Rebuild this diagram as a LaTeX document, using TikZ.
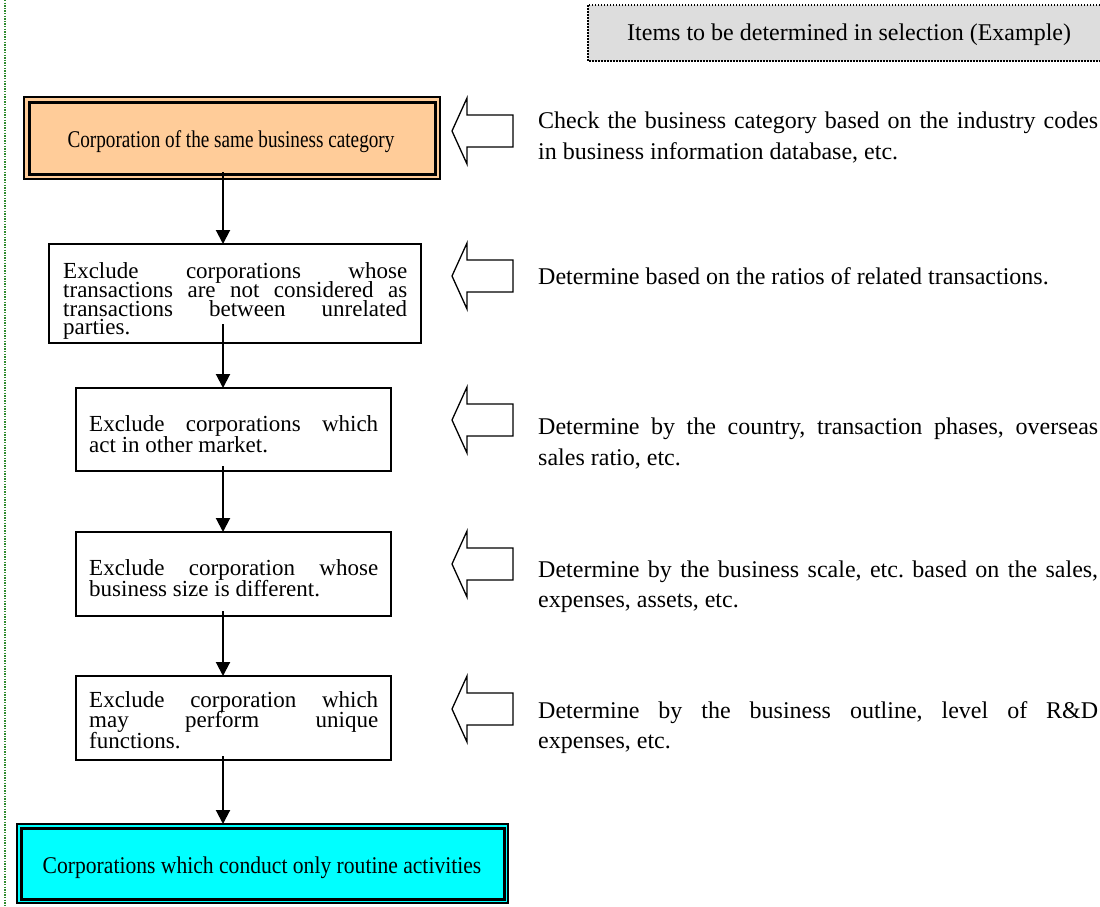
\documentclass[tikz,border=0pt]{standalone}
\usepackage{fontspec}
\setmainfont{Liberation Serif}
\usetikzlibrary{arrows.meta}
\definecolor{peach}{HTML}{FFCC99}
\definecolor{aqua}{HTML}{00FFFF}
\definecolor{hdrgray}{HTML}{DDDDDD}
\definecolor{dotgreen}{HTML}{2E8B2E}
\frenchspacing
\begin{document}
\frenchspacing
\begin{tikzpicture}[x=1pt,y=-1pt,
  flowbox/.style={draw,line width=1.6pt,fill=white,inner sep=0pt,outer sep=0pt},
  outerbox/.style={draw,line width=1.5pt,inner sep=0pt,outer sep=0pt},
  innerbox/.style={draw,line width=3pt,inner sep=0pt,outer sep=0pt},
  flow/.style={line width=2pt,-{Triangle[width=14pt,length=14pt]}},
  blockarrow/.style={draw,line width=1.3pt,fill=white,line join=miter},
  txt/.style={anchor=base west,inner sep=0pt,font=\fontsize{24}{31}\selectfont\frenchspacing},
  btxt/.style={anchor=base west,inner sep=0pt,font=\fontsize{23}{19}\selectfont\frenchspacing},
  larrow/.pic={\draw[blockarrow] (0,0) -- (15,-33) -- (15,-16) -- (61,-16) -- (61,16) -- (15,16) -- (15,33) -- cycle;}
]
\useasboundingbox (0,0) rectangle (1100,906);
\clip (0,0) rectangle (1100,906);

% left green dotted rule
\draw[dotgreen,line width=1.6pt,dash pattern=on 1.3pt off 1.3pt] (5,0) -- (5,906);

% header box
\draw[line width=1.5pt,dash pattern=on 1.5pt off 1.5pt,fill=hdrgray] (588,5) rectangle (1115,61);
\node[txt] (hdr) at (627,40) {Items to be determined in selection (Example)};

% box 1
\node[outerbox,fill=peach,minimum width=416pt,minimum height=82pt] (b1out) at (232,138) {};
\node[innerbox,minimum width=406pt,minimum height=72pt] (b1) at (232,138) {};
\node[txt,anchor=base] (b1t) at (231,147) {\scalebox{0.8}[1]{Corporation of the same business category}};

% box 2
\node[flowbox,minimum width=372pt,minimum height=99pt] (b2) at (235,293.5) {};
\node[btxt] (b2a) at (63,278) {\makebox[344pt][s]{Exclude corporations whose}};
\node[btxt] (b2b) at (63,297) {\makebox[344pt][s]{transactions are not considered as}};
\node[btxt] (b2c) at (63,316) {\makebox[344pt][s]{transactions between unrelated}};
\node[btxt] (b2d) at (63,334) {parties.};

% box 3
\node[flowbox,minimum width=315pt,minimum height=83pt] (b3) at (233.5,429.5) {};
\node[btxt] (b3a) at (89,431) {\makebox[289pt][s]{Exclude corporations which}};
\node[btxt] (b3b) at (89,452) {act in other market.};

% box 4
\node[flowbox,minimum width=315pt,minimum height=84pt] (b4) at (233.5,574) {};
\node[btxt] (b4a) at (89,575) {\makebox[289pt][s]{Exclude corporation whose}};
\node[btxt] (b4b) at (89,596) {business size is different.};

% box 5
\node[flowbox,minimum width=315pt,minimum height=84pt] (b5) at (233.5,718) {};
\node[btxt] (b5a) at (89,707) {\makebox[289pt][s]{Exclude corporation which}};
\node[btxt] (b5b) at (89,727) {\makebox[289pt][s]{may perform unique}};
\node[btxt] (b5c) at (89,748) {functions.};

% box 6
\node[outerbox,fill=aqua,minimum width=491pt,minimum height=79pt] (b6out) at (262.5,863.5) {};
\node[innerbox,minimum width=483pt,minimum height=71pt] (b6) at (262.5,863.5) {};
\node[txt,anchor=base] (b6t) at (262,873) {\scalebox{0.9}[1]{Corporations which conduct only routine activities}};

% flow connectors
\coordinate (ax) at (223,0);
\draw[flow] ([yshift=2pt]b1.south -| ax) -- (b2.north -| ax);
\draw[flow] ([yshift=19pt]b2.south -| ax) -- (b3.north -| ax);
\draw[flow] ([yshift=5pt]b3.south -| ax) -- (b4.north -| ax);
\draw[flow] ([yshift=5pt]b4.south -| ax) -- (b5.north -| ax);
\draw[flow] ([yshift=4pt]b5.south -| ax) -- (b6out.north -| ax);

% block arrows
\pic at (452,131) {larrow};
\pic at (452,276) {larrow};
\pic at (452,420) {larrow};
\pic at (452,564) {larrow};
\pic at (452,709) {larrow};

% right-hand explanations
\node[txt] (r1a) at (538,128) {\makebox[560pt][s]{Check the business category based on the industry codes}};
\node[txt] (r1b) at (538,159) {in business information database, etc.};
\node[txt] (r2) at (538,284) {Determine based on the ratios of related transactions.};
\node[txt] (r3a) at (538,434) {\makebox[560pt][s]{Determine by the country, transaction phases, overseas}};
\node[txt] (r3b) at (538,465) {sales ratio, etc.};
\node[txt] (r4a) at (538,577) {\makebox[560pt][s]{Determine by the business scale, etc. based on the sales,}};
\node[txt] (r4b) at (538,607) {expenses, assets, etc.};
\node[txt] (r5a) at (538,718) {\makebox[560pt][s]{Determine by the business outline, level of R\&D}};
\node[txt] (r5b) at (538,748) {expenses, etc.};
\end{tikzpicture}
\end{document}
